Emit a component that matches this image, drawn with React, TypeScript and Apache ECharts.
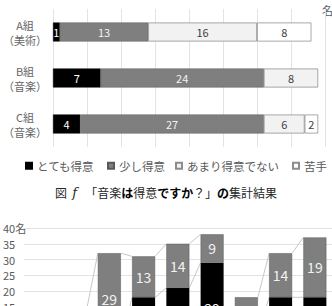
import React, { useEffect, useRef } from 'react';
import * as echarts from 'echarts';

// ---- top chart data ----
const classCats = ['A組\n（美術）', 'B組\n（音楽）', 'C組\n（音楽）'];
const veryGood = [1, 7, 4];
const littleGood = [13, 24, 27];
const notGood = [16, 8, 6];
const bad: (number | null)[] = [8, null, 2];
const legendNames = ['とても得意', '少し得意', 'あまり得意でない', '苦手'];
const topUnit = '名';
const caption = ['図  ', 'f', '   「音楽', 'は', '得意', 'ですか', '？」', 'の', '集計結果'];

// ---- bottom chart data (cropped in the reference) ----
const bottomCats = ['1', '2', '3', '4', '5', '6', '7', '8', '9'];
const bottomBlack = [1, 2, 3, 18, 21, 29, 6, 18, 18];
const bottomGrey = [10, 12, 29, 13, 14, 9, 12, 14, 19];
const bottomGroups = [[0, 5], [6, 8]];
const visibleFrom = 13; // values below this lie under the cropped edge

const FONT = '"Noto Sans CJK JP", "Noto Sans", sans-serif';

export default function App() {
  const ref = useRef<HTMLDivElement>(null);
  useEffect(() => {
    if (!ref.current) return;
    const chart = echarts.init(ref.current, undefined, { renderer: 'svg' });

    const connectors: number[][] = [];
    bottomGroups.forEach(([s, e]) => {
      for (let i = s; i < e; i++) {
        connectors.push([i, bottomBlack[i], bottomBlack[i + 1]]);
        connectors.push([
          i,
          bottomBlack[i] + bottomGrey[i],
          bottomBlack[i + 1] + bottomGrey[i + 1],
        ]);
      }
    });
    const BW = 23;

    const blackItems = bottomBlack.map((v) => ({
      value: v,
      label: { show: v / 2 >= visibleFrom },
    }));
    const greyItems = bottomGrey.map((v, i) => ({
      value: v,
      label: { show: bottomBlack[i] + v / 2 >= visibleFrom },
    }));

    const topLabel = (color: string) => ({
      show: true,
      color,
      fontSize: 11,
      fontFamily: FONT,
    });

    const legendLeft = [20, 102, 170, 287];

    chart.setOption({
      animation: false,
      backgroundColor: '#fff',
      textStyle: { fontFamily: FONT },
      grid: [
        { left: 50, right: 7, top: 9, height: 138 },
        { left: 20.7, right: 0, top: 228, height: 126 },
      ],
      xAxis: [
        {
          type: 'value',
          gridIndex: 0,
          min: 0,
          max: 40,
          interval: 5,
          axisLabel: { show: false },
          axisLine: { show: false },
          axisTick: { show: false },
          splitLine: { lineStyle: { color: '#e3e3e3', width: 1 } },
        },
        {
          type: 'category',
          gridIndex: 1,
          data: bottomCats,
          axisLabel: { show: false },
          axisTick: { show: false },
          axisLine: { lineStyle: { color: '#d9d9d9' } },
        },
      ],
      yAxis: [
        {
          type: 'category',
          gridIndex: 0,
          data: classCats,
          inverse: true,
          axisLine: { show: false },
          axisTick: { show: false },
          axisLabel: {
            align: 'center',
            margin: 28,
            fontSize: 11,
            lineHeight: 15,
            color: '#666',
            fontFamily: FONT,
          },
        },
        {
          type: 'value',
          gridIndex: 1,
          min: 0,
          max: 40,
          interval: 5,
          axisLine: { show: false },
          axisTick: { show: false },
          splitLine: { lineStyle: { color: '#e3e3e3', width: 1 } },
          axisLabel: {
            align: 'left',
            margin: 20.7,
            fontSize: 11,
            color: '#595959',
            fontFamily: FONT,
            formatter: (v: number) =>
              v < visibleFrom ? '' : v === 40 ? '40' + topUnit : String(v),
          },
        },
      ],
      legend: legendNames.map((n, i) => ({
        data: [n],
        left: legendLeft[i],
        top: 155,
        icon: 'rect',
        itemWidth: 6,
        itemHeight: 6,
        itemGap: 0,
        selectedMode: false,
        textStyle: { fontSize: 11.5, color: '#595959', fontFamily: FONT },
      })),
      graphic: [
        {
          type: 'text',
          left: 322,
          top: 4,
          style: { text: topUnit, fontSize: 11, fill: '#595959', fontFamily: FONT },
        },
        {
          type: 'text',
          x: 166,
          y: 192,
          style: {
            text:
              `{n|${caption[0]}}{i|${caption[1]}}{n|${caption[2]}}{b|${caption[3]}}{n|${caption[4]}}` +
              `{b|${caption[5]}}{n|${caption[6]}}{b|${caption[7]}}{n|${caption[8]}}`,
            align: 'center',
            verticalAlign: 'middle',
            rich: {
              n: { fontSize: 12, fill: '#262626', fontFamily: FONT },
              b: { fontSize: 12, fill: '#000', fontFamily: FONT, fontWeight: 'bold' },
              i: { fontSize: 13, fill: '#262626', fontFamily: 'DejaVu Serif, serif', fontStyle: 'italic' },
            },
          },
        },
      ],
      series: [
        {
          name: legendNames[0],
          type: 'bar',
          stack: 'top',
          xAxisIndex: 0,
          yAxisIndex: 0,
          barWidth: 19,
          data: veryGood,
          itemStyle: { color: '#000', borderColor: '#000', borderWidth: 0.5 },
          label: topLabel('#fff'),
        },
        {
          name: legendNames[1],
          type: 'bar',
          stack: 'top',
          xAxisIndex: 0,
          yAxisIndex: 0,
          barWidth: 19,
          data: littleGood,
          itemStyle: { color: '#7f7f7f', borderColor: '#595959', borderWidth: 0.5 },
          label: topLabel('#f2f2f2'),
        },
        {
          name: legendNames[2],
          type: 'bar',
          stack: 'top',
          xAxisIndex: 0,
          yAxisIndex: 0,
          barWidth: 19,
          data: notGood,
          itemStyle: { color: '#f2f2f2', borderColor: '#8c8c8c', borderWidth: 0.75 },
          label: topLabel('#404040'),
        },
        {
          name: legendNames[3],
          type: 'bar',
          stack: 'top',
          xAxisIndex: 0,
          yAxisIndex: 0,
          barWidth: 19,
          data: bad,
          itemStyle: { color: '#fff', borderColor: '#8c8c8c', borderWidth: 0.75 },
          label: topLabel('#404040'),
        },
        {
          name: legendNames[0],
          type: 'bar',
          stack: 'bottom',
          xAxisIndex: 1,
          yAxisIndex: 1,
          barWidth: BW,
          data: blackItems,
          itemStyle: { color: '#000' },
          label: { show: true, color: '#fff', fontSize: 14, fontFamily: FONT },
        },
        {
          name: legendNames[1],
          type: 'bar',
          stack: 'bottom',
          xAxisIndex: 1,
          yAxisIndex: 1,
          barWidth: BW,
          data: greyItems,
          itemStyle: { color: '#7f7f7f', borderColor: '#595959', borderWidth: 0.5 },
          label: { show: true, color: '#f2f2f2', fontSize: 14, fontFamily: FONT },
        },
        {
          type: 'custom',
          xAxisIndex: 1,
          yAxisIndex: 1,
          data: connectors,
          encode: { x: 0, y: [1, 2] },
          z: 1,
          renderItem: (params: any, api: any) => {
            const i = api.value(0);
            const p1 = api.coord([i, api.value(1)]);
            const p2 = api.coord([i + 1, api.value(2)]);
            return {
              type: 'line',
              shape: { x1: p1[0] + BW / 2, y1: p1[1], x2: p2[0] - BW / 2, y2: p2[1] },
              style: { stroke: '#c8c8c8', lineWidth: 1 },
            };
          },
        },
      ],
    });
    return () => chart.dispose();
  }, []);

  return (
    <div
      style={{
        position: 'fixed',
        left: 0,
        top: 0,
        width: 332,
        height: 306,
        overflow: 'hidden',
        background: '#fff',
      }}
    >
      <div ref={ref} style={{ width: 332, height: 400 }} />
    </div>
  );
}
